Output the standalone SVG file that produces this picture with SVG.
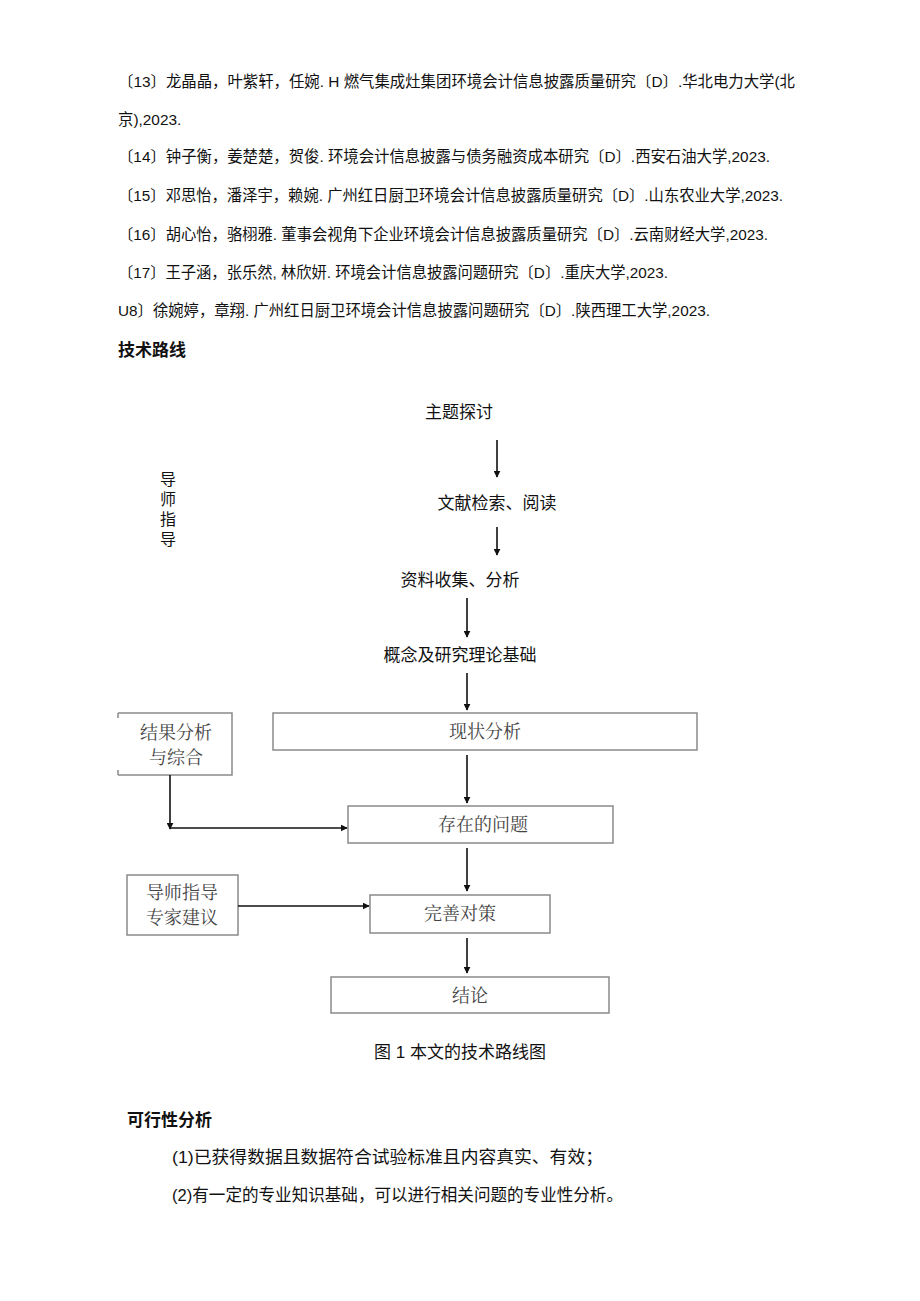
<svg xmlns="http://www.w3.org/2000/svg" width="920" height="1301" viewBox="0 0 920 1301">
<style>
.t{font-family:"Liberation Sans","Noto Sans CJK SC",sans-serif;font-size:15.4px;fill:#111}
.l{font-size:17px}
.b{font-weight:bold}
.c{text-anchor:middle}
.bx{fill:#fff;stroke:#8a8a8a;stroke-width:1.5}
.bt{font-family:"Noto Serif CJK SC","Liberation Serif","Noto Sans CJK SC",serif;font-size:18px;fill:#444;text-anchor:middle}
.ln{stroke:#111;stroke-width:1.6;fill:none}
</style>
<defs>
<marker id="ah" viewBox="0 0 10 10" refX="9" refY="5" markerWidth="7" markerHeight="7" orient="auto" markerUnits="userSpaceOnUse"><path d="M0,0 L10,5 L0,10 z" fill="#111"/></marker>
</defs>
<rect width="920" height="1301" fill="#fff"/>
<g id="refs">
<text class="t" x="118" y="87" textLength="677" lengthAdjust="spacingAndGlyphs">〔13〕龙晶晶，叶紫轩，任婉. H 燃气集成灶集团环境会计信息披露质量研究〔D〕.华北电力大学(北</text>
<text class="t" x="118" y="125">京),2023.</text>
<text class="t" x="118" y="162" textLength="652" lengthAdjust="spacingAndGlyphs">〔14〕钟子衡，姜楚楚，贺俊. 环境会计信息披露与债务融资成本研究〔D〕.西安石油大学,2023.</text>
<text class="t" x="118" y="201" textLength="665" lengthAdjust="spacingAndGlyphs">〔15〕邓思怡，潘泽宇，赖婉. 广州红日厨卫环境会计信息披露质量研究〔D〕.山东农业大学,2023.</text>
<text class="t" x="118" y="240" textLength="650" lengthAdjust="spacingAndGlyphs">〔16〕胡心怡，骆栩雅. 董事会视角下企业环境会计信息披露质量研究〔D〕.云南财经大学,2023.</text>
<text class="t" x="118" y="278" textLength="550" lengthAdjust="spacingAndGlyphs">〔17〕王子涵，张乐然, 林欣妍. 环境会计信息披露问题研究〔D〕.重庆大学,2023.</text>
<text class="t" x="118" y="316" textLength="592" lengthAdjust="spacingAndGlyphs">U8〕徐婉婷，章翔. 广州红日厨卫环境会计信息披露问题研究〔D〕.陕西理工大学,2023.</text>
<text class="t b l" x="118" y="356">技术路线</text>
</g>
<g id="n-topic"><text class="t l c" x="459" y="418">主题探讨</text></g>
<g id="n-lit"><text class="t l c" x="497" y="509">文献检索、阅读</text></g>
<g id="n-data"><text class="t l c" x="460" y="586">资料收集、分析</text></g>
<g id="n-theory"><text class="t l c" x="460" y="661">概念及研究理论基础</text></g>
<g id="n-guide-v"><text class="t" x="160" y="485" style="font-size:16px">导</text><text class="t" x="160" y="505" style="font-size:16px">师</text><text class="t" x="160" y="525" style="font-size:16px">指</text><text class="t" x="160" y="545" style="font-size:16px">导</text></g>
<g id="n-status"><rect class="bx" x="273" y="713" width="424" height="37"/><text class="bt" x="485" y="738">现状分析</text></g>
<g id="n-result"><path class="bx" d="M118,713 H232 V775 H118 M118,713 v5 M118,770 v5"/><text class="bt" x="176" y="739">结果分析</text><text class="bt" x="176" y="764">与综合</text></g>
<g id="n-problem"><rect class="bx" x="348" y="806" width="265" height="37"/><text class="bt" x="483" y="831">存在的问题</text></g>
<g id="n-advice"><rect class="bx" x="127" y="875" width="111" height="60"/><text class="bt" x="182" y="899">导师指导</text><text class="bt" x="182" y="924">专家建议</text></g>
<g id="n-measure"><rect class="bx" x="370" y="895" width="180" height="38"/><text class="bt" x="460" y="920">完善对策</text></g>
<g id="n-concl"><rect class="bx" x="331" y="977" width="278" height="36"/><text class="bt" x="470" y="1002">结论</text></g>
<g id="connectors">
<line class="ln" x1="497" y1="440" x2="497" y2="477" marker-end="url(#ah)"/>
<line class="ln" x1="497" y1="527" x2="497" y2="555" marker-end="url(#ah)"/>
<line class="ln" x1="467" y1="598" x2="467" y2="637" marker-end="url(#ah)"/>
<line class="ln" x1="467" y1="673" x2="467" y2="710" marker-end="url(#ah)"/>
<line class="ln" x1="467" y1="755" x2="467" y2="803" marker-end="url(#ah)"/>
<line class="ln" x1="467" y1="848" x2="467" y2="891" marker-end="url(#ah)"/>
<line class="ln" x1="467" y1="938" x2="467" y2="973" marker-end="url(#ah)"/>
<line class="ln" x1="170" y1="775" x2="170" y2="829" marker-end="url(#ah)"/>
<line class="ln" x1="170" y1="828" x2="347" y2="828" marker-end="url(#ah)"/>
<line class="ln" x1="238" y1="906" x2="369" y2="906" marker-end="url(#ah)"/>
</g>
<g id="text-bottom">
<text class="t l c" x="460" y="1058">图 1 本文的技术路线图</text>
<text class="t b l" x="127" y="1126">可行性分析</text>
<text class="t l" x="172" y="1163" textLength="431" lengthAdjust="spacingAndGlyphs">(1)已获得数据且数据符合试验标准且内容真实、有效；</text>
<text class="t l" x="172" y="1201" textLength="451" lengthAdjust="spacingAndGlyphs">(2)有一定的专业知识基础，可以进行相关问题的专业性分析。</text>
</g>
</svg>
